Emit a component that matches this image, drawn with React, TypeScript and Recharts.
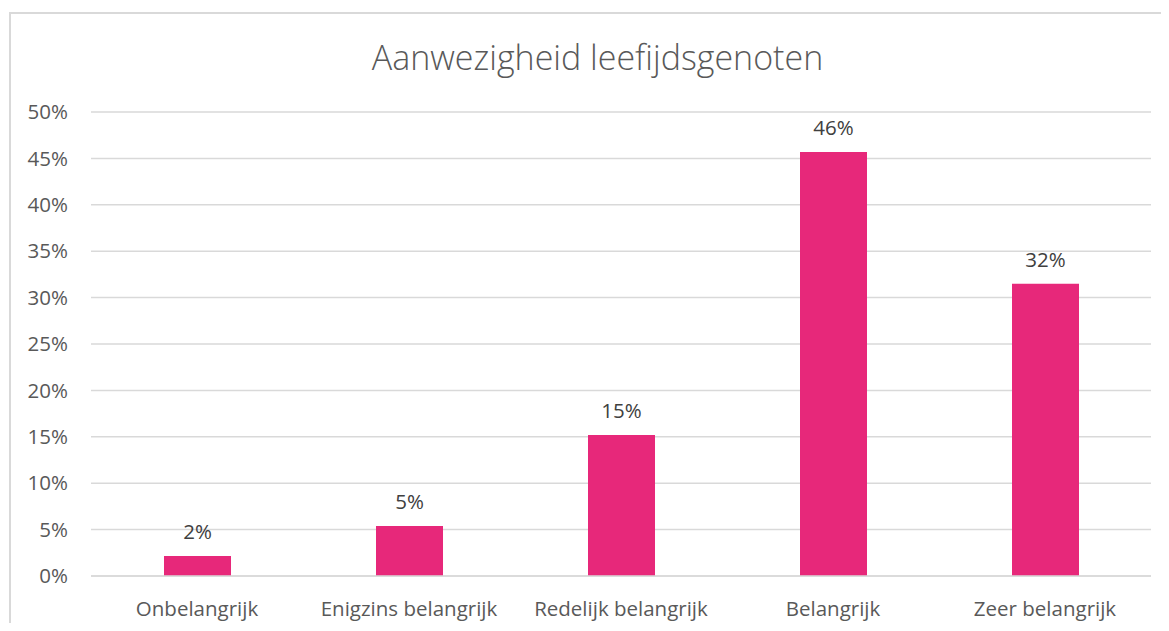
import { BarChart, Bar, XAxis, YAxis, CartesianGrid, LabelList } from 'recharts';

const categories = ['Onbelangrijk', 'Enigzins belangrijk', 'Redelijk belangrijk', 'Belangrijk', 'Zeer belangrijk'];
const shares = [2.15, 5.4, 15.2, 45.7, 31.5];
const yTicks = [0, 5, 10, 15, 20, 25, 30, 35, 40, 45, 50];

const data = categories.map((name, i) => ({ name, value: shares[i] }));

const FONT = '"Open Sans", "Liberation Sans", sans-serif';

const App = () => {
  return (
    <div style={{ position: 'relative', margin: -8, width: 1169, height: 631, overflow: 'hidden', background: '#fff' }}>
      {/* chart frame, runs past the right and bottom edge like the source */}
      <div
        style={{
          position: 'absolute',
          left: 9,
          top: 12,
          width: 1200,
          height: 700,
          border: '2px solid #d9d9d9',
        }}
      />
      <div
        style={{
          position: 'absolute',
          left: 0,
          top: 35,
          width: 1195,
          textAlign: 'center',
          fontFamily: FONT,
          fontSize: 34,
          fontWeight: 300,
          color: '#595959',
          lineHeight: '44px',
        }}
      >
        Aanwezigheid leefijdsgenoten
      </div>
      <div style={{ position: 'absolute', left: 0, top: 0 }}>
        <BarChart
          width={1169}
          height={631}
          data={data}
          margin={{ top: 112, right: 18, bottom: 25, left: 0 }}
        >
          <CartesianGrid vertical={false} stroke="#d9d9d9" strokeWidth={1.5} />
          <XAxis
            dataKey="name"
            height={30}
            axisLine={{ stroke: '#d9d9d9', strokeWidth: 1.5 }}
            tickLine={false}
            tickSize={0}
            tickMargin={25}
            interval={0}
            tick={{ fill: '#595959', fontSize: 20.5, fontFamily: FONT }}
          />
          <YAxis
            domain={[0, 50]}
            ticks={yTicks}
            width={91}
            axisLine={false}
            tickLine={false}
            tickSize={0}
            tickMargin={23}
            tickFormatter={(v: number) => `${v}%`}
            tick={{ fill: '#595959', fontSize: 20.5, fontFamily: FONT }}
          />
          <Bar dataKey="value" fill="#E7287A" barSize={67} isAnimationActive={false}>
            <LabelList
              dataKey="value"
              position="top"
              offset={17}
              formatter={(v: number) => `${Math.round(v)}%`}
              style={{ fill: '#404040', fontSize: 20.5, fontFamily: FONT }}
            />
          </Bar>
        </BarChart>
      </div>
    </div>
  );
};

export default App;
